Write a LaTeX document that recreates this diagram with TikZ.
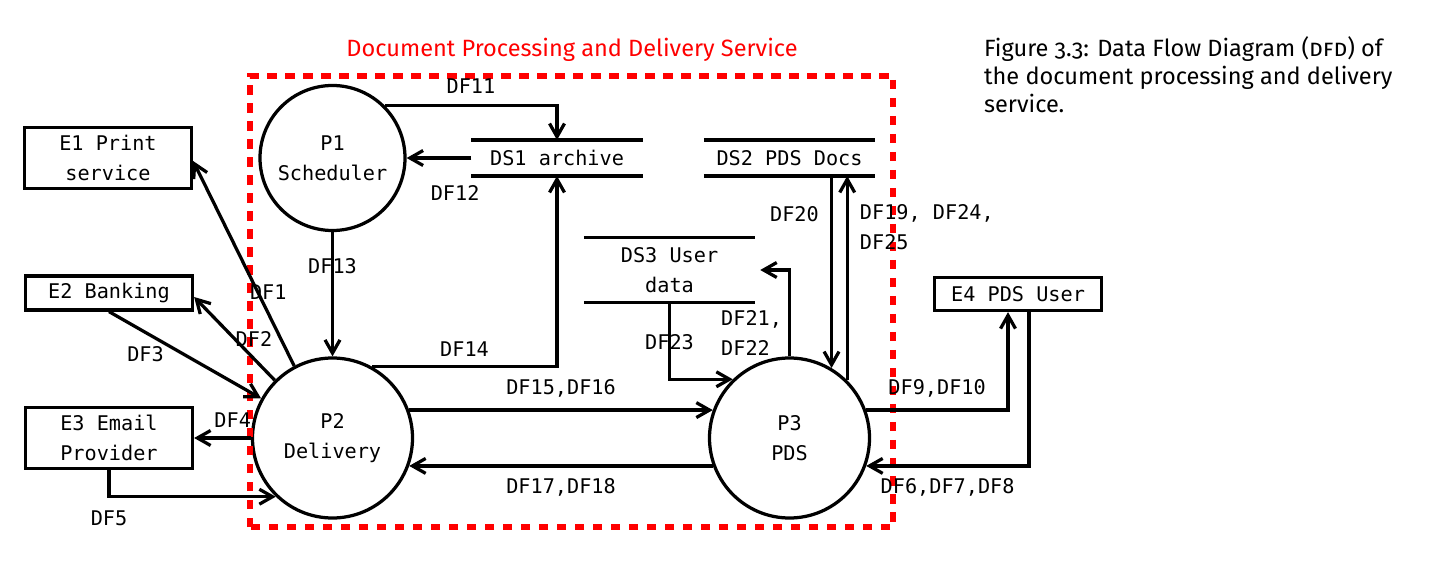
\documentclass[tikz,border=0pt]{standalone}
\usepackage{fontspec}
\setmainfont{Fira Sans}[Numbers=OldStyle]
\newfontfamily\dfdfont{DejaVu Sans Mono}
\usepackage{tikz}
\usetikzlibrary{arrows.meta,positioning}
\newcommand{\dfdtext}{\dfdfont\fontsize{11.5}{17}\selectfont}
\tikzstyle{process} = [draw, circle, inner sep=0pt, align=center]
\tikzstyle{entity} = [draw, rectangle, minimum width=3.34cm, align=center]
\tikzstyle{store} = [rectangle, minimum width=3.43cm, minimum height=0.72cm, outer sep=0pt, align=center]
\tikzstyle{boundary} = [draw=red, line width=0.11cm, dash pattern=on 0.19cm off 0.17cm]

\begin{document}
\begin{tikzpicture}[node distance=2cm, >={Straight Barb[length=7.5pt,width=8.5pt]}, line width=0.065cm, font=\dfdtext]
    \useasboundingbox (0,0) rectangle (28.82,11.66);
    % Processes
    \node [process, minimum size=3.2cm] (delivery) at (6.65,2.90) {P2\\Delivery};
    \node [process, minimum size=2.9cm, above of=delivery, node distance=5.6cm] (scheduler) {P1\\Scheduler};
    \node [process, minimum size=3.2cm, right of=delivery, node distance=9.14cm] (pds) {P3\\PDS};
    % External entities
    \node [entity, minimum height=1.21cm, left of=delivery, node distance=4.47cm] (e3) {E3 Email\\Provider};
    \node [entity, minimum height=0.68cm, above of=e3, node distance=2.9cm] (e2) {E2 Banking};
    \node [entity, minimum height=1.21cm, left of=scheduler, node distance=4.49cm] (e1) {E1 Print\\service};
    \node [entity, minimum height=0.66cm] (e4) at (20.36,5.78) {E4 PDS User};
    % Data stores
    \node [store, right of=scheduler, node distance=4.49cm] (ds1) {DS1 archive};
    \node [store, above of=pds, node distance=5.6cm] (ds2) {DS2 PDS Docs};
    \node [store, minimum height=1.3cm] (ds3) at (13.39,6.26) {DS3 User\\data};
    \foreach \s in {ds1,ds2,ds3}
        \draw (\s.north west) -- (\s.north east) (\s.south west) -- (\s.south east);

    % System boundary
    \draw [boundary] (5.0,1.12) rectangle (17.86,10.14);
    \node [font=\fontsize{13.4}{17}\selectfont, text=red, anchor=base] (title) at (11.44,10.52) {Document Processing and Delivery Service};
    \node [anchor=north west, align=left, inner sep=0pt, font=\fontsize{13.4}{15.9}\selectfont] (caption) at (19.65,10.96) {Figure 3.3: Data Flow Diagram (\textsc{dfd}) of\\the document processing and delivery\\service.};

    % Connections
    \draw [->] (delivery.118) -- node [pos=.36, xshift=0.21cm] {DF1} ([yshift=-0.06cm]e1.east);
    \draw [->] (delivery.135) -- node [pos=.5, xshift=0.39cm] {DF2} ([yshift=-0.08cm]e2.east);
    \draw [->] (e2.south) -- node [pos=.24, yshift=-0.44cm] {DF3} (delivery.151);
    \draw [->] (delivery.west) -- node [pos=.32, above=2pt] {DF4} (e3.east);
    \draw [->] (e3.south) |- node [pos=.5, below=3.5pt] {DF5} (delivery.226);
    \draw [->] ([xshift=0.22cm]e4.south) |- node [pos=.75, below=2.7pt] {DF6,DF7,DF8} (pds.340);
    \draw [->] (pds.20) -| node [pos=.25, above=3pt] {DF9,DF10} ([xshift=-0.2cm]e4.south);
    \draw [->] (scheduler.45) -| node [pos=.25, above=2.5pt] {DF11} (ds1.north);
    \draw [->] (ds1.west) -- node [pos=.25, yshift=-0.7cm] {DF12} (scheduler.east);
    \draw [->] (scheduler) -- node [pos=.27] {DF13} (delivery);
    \draw [->] (delivery.61) -| node [pos=.25, above=1.5pt] {DF14} (ds1.south);
    \draw [->] (delivery.20) -- node [above=3pt] {DF15,DF16} (pds.160);
    \draw [->] (pds.200) -- node [below=2.7pt] {DF17,DF18} (delivery.340);
    \draw [->] (pds.45) -- node [pos=.75, right=3pt, align=left] {DF19, DF24,\\DF25} (pds.45 |- ds2.south);
    \draw [->] (pds.59 |- ds2.south) -- node [pos=.2, left=3pt] {DF20} (pds.59);
    \draw [->] (pds.north) |- node [pos=.134, left, align=left] {DF21,\\DF22} ([xshift=0.1cm]ds3.east);
    \draw [->] (ds3.south) |- node [pos=.26] {DF23} (pds.134);
\end{tikzpicture}
\end{document}
